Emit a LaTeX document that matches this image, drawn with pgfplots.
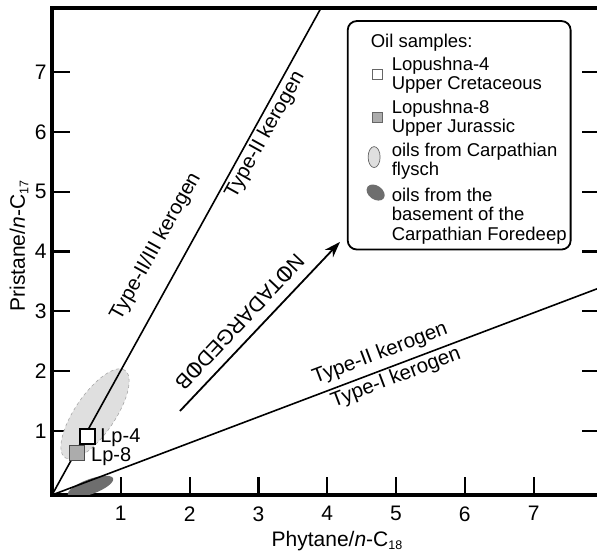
\documentclass[border=0pt]{standalone}
\usepackage{pgfplots}
\pgfplotsset{compat=1.18}
\usepackage{fontspec}
\setmainfont{Liberation Sans}
\usetikzlibrary{arrows.meta}
\newcommand{\sub}[1]{\raisebox{-3.5pt}{\fontsize{12.5}{13}\selectfont #1}}
\begin{document}
\begin{tikzpicture}
\begin{axis}[
  at={(0,0)}, anchor=south west,
  scale only axis, width=548pt, height=487pt,
  xmin=0, xmax=7.965, ymin=-0.07, ymax=8.07,
  xtick={1,2,3,4,5,6,7}, ytick={1,2,3,4,5,6,7},
  xtick pos=lower, ytick pos=both,
  tick align=inside, major tick length=18pt,
  tick style={line width=2.2pt, black},
  axis line style={line width=3.2pt},
  /pgf/number format/assume math mode=true,
  ticklabel style={font=\fontsize{21}{25}\selectfont},
  xticklabel style={yshift=-8pt},
  yticklabel style={xshift=-2pt},
  xlabel={Phytane/\textit{n}-C\sub{18}},
  ylabel={Pristane/\textit{n}-C\sub{17}},
  every axis x label/.style={at={(rel axis cs:0.52,0)}, anchor=center, yshift=-46pt, font=\fontsize{21}{25}\selectfont},
  every axis y label/.style={at={(rel axis cs:0,0.511)}, anchor=center, xshift=-33pt, rotate=90, font=\fontsize{21}{25}\selectfont},
  legend cell align=left,
  legend style={at={(0.538,0.975)}, anchor=north west, draw=black, line width=1.8pt,
    rounded corners=9pt, fill=white, inner xsep=2pt, inner ysep=6pt,
    font=\fontsize{18.5}{19.5}\selectfont, cells={align=left}, row sep=4.5pt,
    /tikz/every odd column/.append style={column sep=4pt}},
]
% ellipses (oil fields)
\draw[fill=gray!25, draw=gray!70, dashed, line width=0.6pt, rotate around={55.7:(axis cs:0.625,1.284)}]
  (axis cs:0.625,1.284) ellipse [x radius=53pt, y radius=20pt];
\fill[black!57, rotate around={20:(axis cs:0.56,0.07)}]
  (axis cs:0.56,0.07) ellipse [x radius=24pt, y radius=7.5pt];
% kerogen boundary lines
\addplot[black, line width=1.6pt, forget plot] coordinates {(0,-0.07) (3.91,8.07)};
\addplot[black, line width=1.6pt, forget plot] coordinates {(0,-0.07) (7.965,3.395)};
% biodegradation arrow
\addplot[black, line width=1.8pt, -{Stealth[length=16pt, width=11pt]}, forget plot]
  coordinates {(1.86,1.334) (4.186,4.16)};
% samples
\addplot[only marks, mark=square*, mark size=7.5pt, forget plot,
  mark options={fill=gray!65, draw=black!70, line width=1.5pt}] coordinates {(0.36,0.63)};
\addplot[only marks, mark=square*, mark size=7.5pt, forget plot,
  mark options={fill=white, draw=black, line width=2pt}] coordinates {(0.51,0.90)};
% labels
\node[anchor=west, inner sep=0, font=\fontsize{20}{24}\selectfont] at (axis cs:0.70,0.88) {Lp-4};
\node[anchor=west, inner sep=0, font=\fontsize{20}{24}\selectfont] at (axis cs:0.567,0.565) {Lp-8};
\node[rotate=20.7, inner sep=0, font=\fontsize{20.5}{24}\selectfont] at (axis cs:4.77,2.29) {Type-II kerogen};
\node[rotate=20.7, inner sep=0, font=\fontsize{20.5}{24}\selectfont] at (axis cs:5.0,1.886) {Type-I kerogen};
\node[rotate=61, inner sep=0, font=\fontsize{20.5}{24}\selectfont] at (axis cs:1.51,4.08) {Type-II/III kerogen};
\node[rotate=61, inner sep=0, font=\fontsize{20.5}{24}\selectfont] at (axis cs:3.10,5.95) {Type-II kerogen};
\node[rotate=226.6, inner sep=0, font=\fontsize{21}{24}\selectfont] at (axis cs:2.73,2.82)
  {N\rlap{\hspace{4.6pt}I}OTADARGED\rlap{\hspace{4.6pt}I}OB};
% legend
\addlegendimage{legend image code/.code={}}
\addlegendentry{\rule{0pt}{18pt}\hspace*{-21pt}Oil samples:}
\addlegendimage{legend image code/.code={\path (-27pt,0);
  \draw[sharp corners, solid, fill=white, draw=black!60, line width=0.9pt] (-5pt,-5pt) rectangle (5pt,5pt);}}
\addlegendentry{Lopushna-4\\Upper Cretaceous}
\addlegendimage{legend image code/.code={\path (-27pt,0);
  \draw[sharp corners, solid, fill=gray!65, draw=black!60, line width=0.9pt] (-5pt,-5pt) rectangle (5pt,5pt);}}
\addlegendentry{Lopushna-8\\Upper Jurassic}
\addlegendimage{legend image code/.code={\path (-27pt,0);
  \draw[sharp corners, fill=gray!25, draw=black!60, line width=0.7pt] (-3.5pt,3pt) ellipse [x radius=6pt, y radius=10.5pt];}}
\addlegendentry{oils from Carpathian\\flysch}
\addlegendimage{legend image code/.code={\path (-27pt,0);
  \fill[black!57, rotate around={-35:(-2pt,22pt)}] (-2pt,22pt) ellipse [x radius=9pt, y radius=6pt];}}
\addlegendentry{oils from the\\basement of the\\Carpathian Foredeep}
\end{axis}
\pgfresetboundingbox
\path (-52pt,-58pt) rectangle (545pt,495pt);
\end{tikzpicture}
\end{document}
